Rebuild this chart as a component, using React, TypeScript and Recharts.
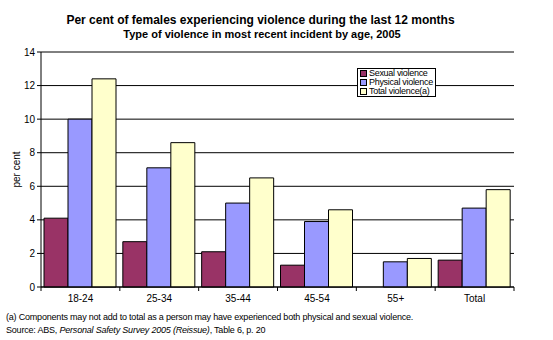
import React from 'react';
import { BarChart, Bar, XAxis, YAxis, CartesianGrid } from 'recharts';

const AGE_GROUPS = ['18-24', '25-34', '35-44', '45-54', '55+', 'Total'];
const SEXUAL = [4.1, 2.7, 2.1, 1.3, null, 1.6];
const PHYSICAL = [10.0, 7.1, 5.0, 3.9, 1.5, 4.7];
const TOTAL = [12.4, 8.6, 6.5, 4.6, 1.7, 5.8];
const Y_TICKS = [0, 2, 4, 6, 8, 10, 12, 14];

const SERIES = [
  { key: 'sexual', name: 'Sexual violence', color: '#993366' },
  { key: 'physical', name: 'Physical violence', color: '#9999ff' },
  { key: 'total', name: 'Total violence(a)', color: '#ffffcc' }
];

const FONT = 'Arial, "Liberation Sans", sans-serif';

const chartData = AGE_GROUPS.map((age, i) => ({
  age,
  sexual: SEXUAL[i],
  physical: PHYSICAL[i],
  total: TOTAL[i]
}));

// category label in the middle, tick mark at the band edge (Excel style)
const AgeTick = (props: any) => {
  const { x, y, payload, index } = props;
  const half = payload && payload.offset ? payload.offset : 39.4;
  const isLast = index === AGE_GROUPS.length - 1;
  return (
    <g>
      <line x1={x - half} x2={x - half} y1={y - 8} y2={y - 4} stroke="#000" />
      {isLast && <line x1={x + half} x2={x + half} y1={y - 8} y2={y - 4} stroke="#000" />}
      <text x={x} y={y + 7} textAnchor="middle" fontSize={10} fill="#000" fontFamily={FONT}>
        {payload.value}
      </text>
    </g>
  );
};

const App: React.FC = () => {
  return (
    <div style={{ position: 'absolute', left: 0, top: 0, width: 553, height: 340, background: '#fff', fontFamily: FONT }}>
      <div style={{ position: 'absolute', top: 13, left: 0, width: 521, textAlign: 'center', fontWeight: 'bold', fontSize: 12 }}>
        Per cent of females experiencing violence during the last 12 months
      </div>
      <div style={{ position: 'absolute', top: 28, left: 0, width: 524, textAlign: 'center', fontWeight: 'bold', fontSize: 11 }}>
        Type of violence in most recent incident by age, 2005
      </div>

      <BarChart
        width={553}
        height={340}
        data={chartData}
        margin={{ top: 52, right: 39, left: 16, bottom: 0 }}
        barCategoryGap={3}
        barGap={0}
      >
        <CartesianGrid vertical={false} stroke="#000" strokeWidth={1} />
        <XAxis
          dataKey="age"
          stroke="#000"
          tickLine={false}
          tick={<AgeTick />}
          interval={0}
          height={53}
        />
        <XAxis xAxisId="top" dataKey="age" orientation="top" height={0} tick={false} tickLine={false} stroke="#808080" />
        <YAxis
          domain={[0, 14]}
          ticks={Y_TICKS}
          width={25}
          stroke="#000"
          tickSize={4}
          tick={{ fill: '#000', fontSize: 10, fontFamily: FONT }}
          label={{ value: 'per cent', angle: -90, position: 'insideLeft', offset: 0, style: { fontSize: 10, fill: '#000', fontFamily: FONT, textAnchor: 'middle' } }}
        />
        <YAxis yAxisId="right" orientation="right" domain={[0, 14]} width={0} tick={false} tickLine={false} stroke="#808080" />
        {SERIES.map((s) => (
          <Bar key={s.key} dataKey={s.key} name={s.name} fill={s.color} stroke="#000" strokeWidth={1} isAnimationActive={false} />
        ))}
      </BarChart>

      <div style={{ position: 'absolute', left: 357, top: 68, background: '#fff', border: '1px solid #000', padding: '0px 2px 0px 2px', fontSize: 9, lineHeight: '9px', letterSpacing: -0.3 }}>
        {SERIES.map((s) => (
          <div key={s.key} style={{ display: 'flex', alignItems: 'center', height: 9 }}>
            <span style={{ display: 'inline-block', width: 5, height: 5, background: s.color, border: '1px solid #000', marginRight: 2 }} />
            <span>{s.name}</span>
          </div>
        ))}
      </div>

      <div style={{ position: 'absolute', top: 311, left: 6, fontSize: 9, lineHeight: '13px', letterSpacing: -0.2, whiteSpace: 'nowrap' }}>
        <div>(a) Components may not add to total as a person may have experienced both physical and sexual violence.</div>
        <div>
          Source: ABS, <i>Personal Safety Survey 2005 (Reissue)</i>, Table 6, p. 20
        </div>
      </div>
    </div>
  );
};

export default App;
